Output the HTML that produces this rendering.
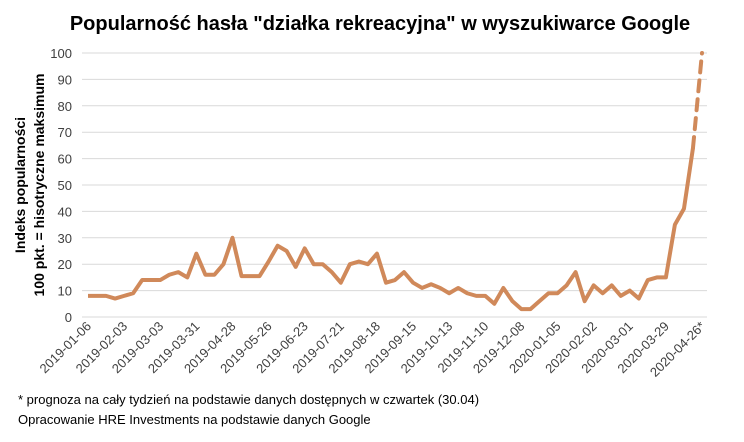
<!DOCTYPE html>
<html><head><meta charset="utf-8"><style>
body{margin:0;background:#fff;width:744px;height:437px;overflow:hidden;font-family:"Liberation Sans",sans-serif}
</style></head><body>
<svg width="744" height="437" id="c">
<text x="380" y="30" text-anchor="middle" font-size="20" font-weight="bold" fill="#000">Popularność hasła "działka rekreacyjna" w wyszukiwarce Google</text>
<g font-size="14" font-weight="bold" transform="translate(25,185) rotate(-90)" text-anchor="middle"><text y="0">Indeks popularności</text><text y="19">100 pkt. = hisotryczne maksimum</text></g>
<g id="grid"></g><g id="ylab"></g><g id="xlab"></g><g id="series"></g>
<text x="18" y="404" font-size="13">* prognoza na cały tydzień na podstawie danych dostępnych w czwartek (30.04)</text>
<text x="18" y="424" font-size="13">Opracowanie HRE Investments na podstawie danych Google</text>
</svg>
<script>
const yTicks=[0,10,20,30,40,50,60,70,80,90,100];
const xLabels=["2019-01-06","2019-02-03","2019-03-03","2019-03-31","2019-04-28","2019-05-26","2019-06-23","2019-07-21","2019-08-18","2019-09-15","2019-10-13","2019-11-10","2019-12-08","2020-01-05","2020-02-02","2020-03-01","2020-03-29","2020-04-26*"];
const values=[8,8,8,7,8,9,14,14,14,16,17,15,24,16,16,20,30,15.5,15.5,15.5,21,27,25,19,26,20,20,17,13,20,21,20,24,13,14,17,13,11,12.4,11,9,11,9,8,8,5,11,6,3,3,6,9,9,12,17,6,12,9,12,8,10,7,14,15,15,35,41,64];
const forecast=100;
const NS="http://www.w3.org/2000/svg";
const x0=88,x1=702,yb=317,yt=53,n=values.length+1;
const X=i=>x0+(x1-x0)*i/(n-1), Y=v=>yb-(yb-yt)*v/100;
function mk(t,a,p){const e=document.createElementNS(NS,t);for(const k in a)e.setAttribute(k,a[k]);document.getElementById(p).appendChild(e);return e;}
yTicks.forEach(v=>{
 const l=mk('line',{x1:82,x2:707,y1:Y(v),y2:Y(v),stroke:'#d9d9d9','stroke-width':1},'grid');
 
 
 const t=mk('text',{x:72,y:Y(v)+5,'text-anchor':'end','font-size':13,fill:'#404040'},'ylab');t.textContent=v;
 
 
});
xLabels.forEach((s,k)=>{
 const x=X(k*4);
 const t=mk('text',{transform:`translate(${x+4},${yb+10}) rotate(-45)`,'text-anchor':'end','font-size':13,fill:'#404040'},'xlab');t.textContent=s;
 
 
});
const p=mk('polyline',{points:values.map((v,i)=>X(i)+','+Y(v)).join(' '),fill:'none',stroke:'#d0895a','stroke-width':4,'stroke-linejoin':'round'},'series');


const li=values.length-1;
const d=mk('line',{x1:X(li),y1:Y(values[li]),x2:X(li+1),y2:Y(forecast),stroke:'#d0895a','stroke-width':4,'stroke-dasharray':'11,8','stroke-linecap':'round'},'series');


</script>
</body></html>
